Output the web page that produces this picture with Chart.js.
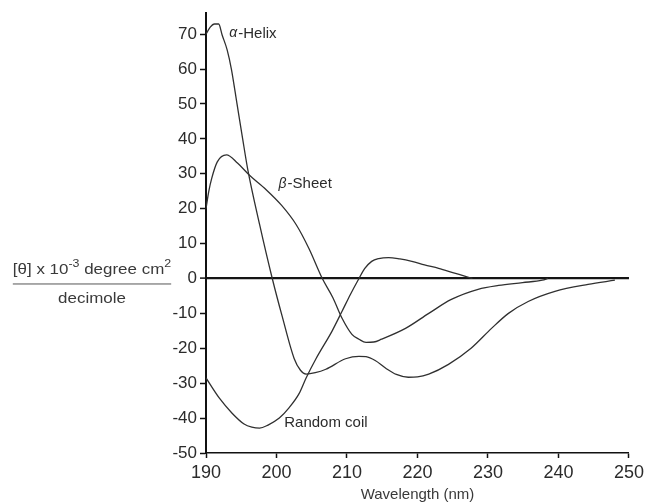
<!DOCTYPE html>
<html>
<head>
<meta charset="utf-8">
<title>CD spectra of secondary structures</title>
<script src="https://cdn.jsdelivr.net/npm/chart.js@4.4.1/dist/chart.umd.min.js"></script>
<style>
  body { margin: 0; background: #fff; }
  canvas { display: block; }
</style>
</head>
<body>
<canvas id="cdChart" width="648" height="504"></canvas>
<script>
// Circular dichroism spectra of the three classic secondary structures,
// read off a scanned figure.  Wavelength in nm, ellipticity in
// [theta] x 10^-3 degree cm2 / decimole.

const xTicks = [190, 200, 210, 220, 230, 240, 250];
const yTicks = [-50, -40, -30, -20, -10, 0, 10, 20, 30, 40, 50, 60, 70];

const helixNm = [190, 190.6, 191.2, 191.8, 192.3, 193, 193.6, 194.4, 195.2, 195.9, 197.6, 199.4,
  200.8, 202.5, 203.4, 204.2, 205.5, 207, 209.8, 211.7, 212.7, 214, 215.5, 217, 218.7, 220,
  221.6, 224.4, 227.6, 230.5, 232.9, 235.7, 239.5, 244.2, 248];
const helixVals = [70, 72, 72.9, 72.9, 69.7, 65.5, 60, 50, 40, 31.5, 15.5, 0,
  -10.8, -22.9, -26.3, -27.4, -27, -26, -23, -22.3, -22.4, -23.5, -25.7, -27.5, -28.3, -28.2,
  -27.4, -24.6, -20, -14.3, -10, -6.6, -3.7, -1.7, -0.5];

const sheetNm = [190, 190.4, 190.8, 191.6, 192.9, 194.5, 196.1, 198.5, 200.7, 202.8, 204.6, 206.5,
  208, 209.3, 210.7, 211.7, 212.7, 213.8, 214.9, 218.3, 221.6, 224.8, 228.6, 231.5, 234.9, 237.7, 238.5];
const sheetVals = [20, 25, 28.6, 33.4, 35.4, 33, 29.7, 25.5, 21, 15.4, 8.6, 0,
  -5.5, -11.4, -16, -17.4, -18.3, -18.2, -17.4, -14.3, -10, -6, -3.1, -2, -1.2, -0.5, 0];

const coilNm = [190, 191.9, 193.7, 195.4, 196.5, 197.6, 198.8, 200.4, 201.8, 203.2, 204.2, 205.6,
  207.9, 209.3, 210.5, 211.7, 212.5, 213.5, 214.5, 215.9, 217.5, 219.2, 221, 223, 225, 226.8, 227.8];
const coilVals = [-28.5, -34.3, -38.6, -41.7, -42.6, -42.9, -42, -40, -37, -33, -28.5, -23,
  -15, -9.4, -4.5, 0, 2.8, 4.9, 5.7, 6, 5.6, 4.9, 3.9, 2.9, 1.7, 0.6, 0];

// curve labels, anchored in data units (left edge / vertical middle of the text)
const labelNames = ['-Helix', '-Sheet', 'Random coil'];
const labelGreek = ['α', 'β', ''];
const labelNm = [193.3, 200.3, 201.1];
const labelVals = [70.2, 27, -41.5];

const textColor = '#2b2b2b';
const lineColor = '#303030';
const fontFamily = "'Liberation Sans', Arial, Helvetica, sans-serif";

function toPoints(xs, ys) {
  return xs.map((x, i) => ({ x: x, y: ys[i] }));
}

function curve(label, xs, ys) {
  return {
    label: label,
    data: toPoints(xs, ys),
    borderColor: lineColor,
    borderWidth: 1.3,
    pointRadius: 0,
    fill: false,
    cubicInterpolationMode: 'monotone'
  };
}

// draws the curve names and the two-line y axis title
const textPlugin = {
  id: 'cdText',
  afterDraw(chart) {
    const ctx = chart.ctx;
    const xs = chart.scales.x;
    const ys = chart.scales.y;
    ctx.save();
    ctx.fillStyle = textColor;
    ctx.textBaseline = 'middle';
    ctx.textAlign = 'left';

    labelNames.forEach((name, i) => {
      let px = xs.getPixelForValue(labelNm[i]);
      const py = ys.getPixelForValue(labelVals[i]);
      if (labelGreek[i]) {
        ctx.font = 'italic 14px ' + fontFamily;
        ctx.fillText(labelGreek[i], px, py);
        px += ctx.measureText(labelGreek[i]).width + 1;
      }
      ctx.font = '15px ' + fontFamily;
      ctx.fillText(name, px, py);
    });

    // y title: fraction with superscripts
    const zeroY = ys.getPixelForValue(0);
    const parts = [
      { t: '[θ] x 10', size: 15, dy: 0 },
      { t: '-3', size: 11, dy: -6 },
      { t: ' degree cm', size: 15, dy: 0 },
      { t: '2', size: 11, dy: -6 }
    ];
    const sx = 1.13;
    let w = 0;
    parts.forEach(p => {
      ctx.font = p.size + 'px ' + fontFamily;
      w += ctx.measureText(p.t).width;
    });
    const cx = 92;
    ctx.fillStyle = '#3a3a3a';
    ctx.save();
    ctx.translate(cx - (w * sx) / 2, zeroY - 9);
    ctx.scale(sx, 1);
    let tx = 0;
    parts.forEach(p => {
      ctx.font = p.size + 'px ' + fontFamily;
      ctx.fillText(p.t, tx, p.dy);
      tx += ctx.measureText(p.t).width;
    });
    ctx.restore();

    ctx.strokeStyle = '#555';
    ctx.lineWidth = 1;
    ctx.beginPath();
    ctx.moveTo(cx - (w * sx) / 2, zeroY + 5.5);
    ctx.lineTo(cx + (w * sx) / 2, zeroY + 5.5);
    ctx.stroke();

    ctx.save();
    ctx.translate(cx, zeroY + 20);
    ctx.scale(sx, 1);
    ctx.textAlign = 'center';
    ctx.font = '15px ' + fontFamily;
    ctx.fillText('decimole', 0, 0);
    ctx.restore();

    ctx.restore();
  }
};

const chart = new Chart(document.getElementById('cdChart').getContext('2d'), {
  type: 'line',
  data: {
    datasets: [
      curve('α-Helix', helixNm, helixVals),
      curve('β-Sheet', sheetNm, sheetVals),
      curve('Random coil', coilNm, coilVals)
    ]
  },
  options: {
    responsive: false,
    animation: false,
    layout: { padding: { left: 0, right: 16, top: 12, bottom: 0 } },
    plugins: {
      legend: { display: false },
      tooltip: { enabled: false }
    },
    scales: {
      x: {
        type: 'linear',
        min: 190,
        max: 250,
        afterBuildTicks: scale => { scale.ticks = xTicks.map(v => ({ value: v })); },
        afterFit: scale => { scale.height = 51; },
        border: { display: true, color: '#111', width: 1.5 },
        grid: {
          drawOnChartArea: false,
          color: '#111',
          tickColor: '#111',
          tickLength: 5,
          tickWidth: 1.5
        },
        ticks: {
          color: textColor,
          padding: 4,
          maxRotation: 0,
          font: { family: fontFamily, size: 18 }
        },
        title: {
          display: true,
          text: 'Wavelength (nm)',
          color: '#3a3a3a',
          padding: { top: 0, bottom: 0 },
          font: { family: fontFamily, size: 15 }
        }
      },
      y: {
        type: 'linear',
        min: -50,
        max: 76,
        afterBuildTicks: scale => { scale.ticks = yTicks.map(v => ({ value: v })); },
        afterFit: scale => { scale.width = 206; },
        border: { display: true, color: '#111', width: 2 },
        grid: {
          drawOnChartArea: true,
          color: ctx => (ctx.tick && ctx.tick.value === 0) ? '#151515' : 'rgba(0,0,0,0)',
          lineWidth: ctx => (ctx.tick && ctx.tick.value === 0) ? 2.2 : 1,
          tickColor: '#111',
          tickLength: 6,
          tickWidth: 1.5
        },
        ticks: {
          color: textColor,
          padding: 3,
          font: { family: fontFamily, size: 17 }
        }
      }
    }
  },
  plugins: [textPlugin]
});
</script>
</body>
</html>
